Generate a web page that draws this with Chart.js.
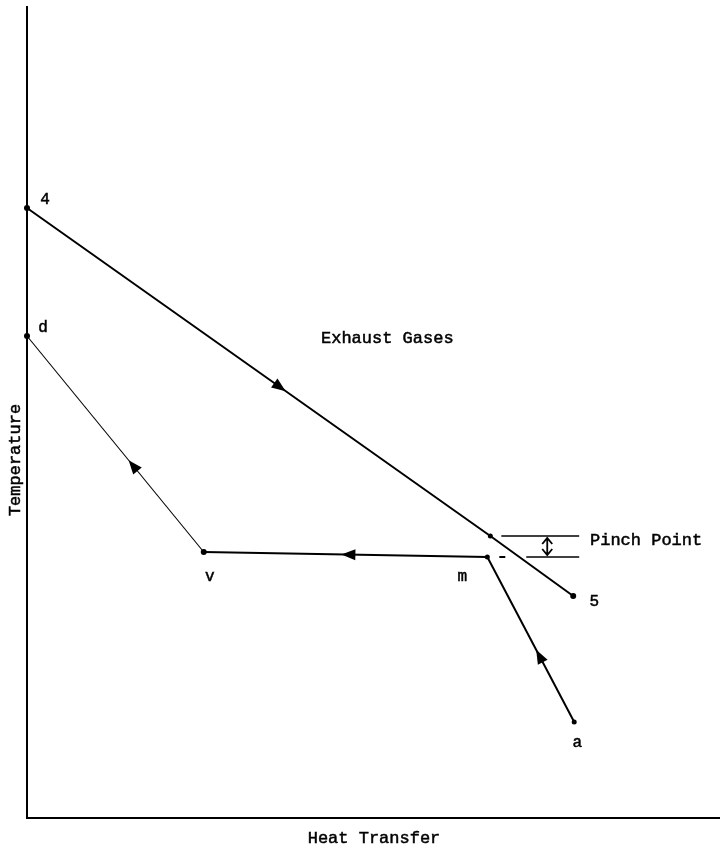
<!DOCTYPE html>
<html>
<head>
<meta charset="utf-8">
<script src="https://cdn.jsdelivr.net/npm/chart.js@4.4.1/dist/chart.umd.min.js"></script>
<style>
  html, body { margin: 0; padding: 0; background: #ffffff; }
  canvas { display: block; }
</style>
</head>
<body>
<canvas id="c" width="723" height="848"></canvas>
<script>
// ---- Data (arbitrary units: heat transfer →, temperature ↑) ----
const gasLabels   = ['4', 'pinch', '5'];
const gasQ        = [0, 464, 547];
const gasT        = [610, 282, 222];

const waterLabels = ['d', 'v', 'm', 'a'];
const waterQ      = [0, 177, 461, 548];
const waterT      = [482, 266, 261, 96];

// pinch point indicator (temperature difference between gas and water)
const pinchUpperQ = [475, 553];
const pinchLowerQ = [500, 553];
const pinchDashQ  = [473, 479];
const pinchArrowQ = 521;

// direction arrows: [series, fromIndex, toIndex, fraction along segment]
const flowArrows = [
  ['gas', 0, 1, 0.546],
  ['water', 1, 0, 0.40],
  ['water', 2, 1, 0.49],
  ['water', 3, 2, 0.40]
];

const axisTitleX = 'Heat Transfer';
const axisTitleY = 'Temperature';
const gasTitle   = 'Exhaust Gases';
const pinchTitle = 'Pinch Point';

const FONT = '"Liberation Mono", "Courier New", monospace';

function pts(xs, ys) { return xs.map((x, i) => ({ x: x, y: ys[i] })); }

const annotate = {
  id: 'annotate',
  afterDatasetsDraw(chart) {
    const ctx = chart.ctx;
    const xs = chart.scales.x, ys = chart.scales.y;
    const px = v => xs.getPixelForValue(v);
    const py = v => ys.getPixelForValue(v);
    const series = { gas: [gasQ, gasT], water: [waterQ, waterT] };

    ctx.save();
    ctx.fillStyle = '#000';
    ctx.strokeStyle = '#000';

    // flow arrows
    flowArrows.forEach(([s, i0, i1, f]) => {
      const [Q, T] = series[s];
      const x0 = px(Q[i0]), y0 = py(T[i0]), x1 = px(Q[i1]), y1 = py(T[i1]);
      const cx = x0 + (x1 - x0) * f, cy = y0 + (y1 - y0) * f;
      const ang = Math.atan2(y1 - y0, x1 - x0);
      const L = 14, W = 5.5;
      ctx.save();
      ctx.translate(cx, cy);
      ctx.rotate(ang);
      ctx.beginPath();
      ctx.moveTo(L / 2, 0);
      ctx.lineTo(-L / 2, -W);
      ctx.lineTo(-L / 2, W);
      ctx.closePath();
      ctx.fill();
      ctx.restore();
    });

    // pinch double arrow
    const ax = px(pinchArrowQ), ay0 = py(gasT[1]) + 2, ay1 = py(waterT[2]) - 2;
    ctx.lineWidth = 1.8;
    ctx.beginPath();
    ctx.moveTo(ax, ay0); ctx.lineTo(ax, ay1);
    ctx.moveTo(ax - 5, ay0 + 6); ctx.lineTo(ax, ay0); ctx.lineTo(ax + 5, ay0 + 6);
    ctx.moveTo(ax - 5, ay1 - 6); ctx.lineTo(ax, ay1); ctx.lineTo(ax + 5, ay1 - 6);
    ctx.stroke();

    // text helper (slightly heavier, typewriter-like)
    ctx.lineWidth = 0.5;
    const txt = (t, x, y) => { ctx.fillText(t, x, y); ctx.strokeText(t, x, y); };

    // point labels
    ctx.font = '16px ' + FONT;
    ctx.textAlign = 'center';
    ctx.textBaseline = 'middle';
    txt(gasLabels[0], px(gasQ[0]) + 18, py(gasT[0]) - 8);
    txt(gasLabels[2], px(gasQ[2]) + 21, py(gasT[2]) + 6);
    txt(waterLabels[0], px(waterQ[0]) + 16, py(waterT[0]) - 8);
    txt(waterLabels[1], px(waterQ[1]) + 6, py(waterT[1]) + 25);
    txt(waterLabels[2], px(waterQ[2]) - 25, py(waterT[2]) + 20);
    txt(waterLabels[3], px(waterQ[3]) + 3, py(waterT[3]) + 21);

    // titles
    ctx.font = '17px ' + FONT;
    ctx.textAlign = 'left';
    txt(gasTitle, 321, 338);
    txt(pinchTitle, 590, 540);

    const area = chart.chartArea;
    ctx.textAlign = 'center';
    txt(axisTitleX, 374, area.bottom + 20);
    ctx.save();
    ctx.translate(15, 460);
    ctx.rotate(-Math.PI / 2);
    txt(axisTitleY, 0, 0);
    ctx.restore();

    ctx.restore();
  }
};

const black = '#000000';
new Chart(document.getElementById('c'), {
  type: 'scatter',
  data: {
    datasets: [
      {
        data: pts(gasQ, gasT), showLine: true, borderColor: black, backgroundColor: black,
        borderWidth: 2, pointRadius: [3, 2.5, 3], pointBackgroundColor: black, pointBorderWidth: 0, clip: false
      },
      {
        data: pts(waterQ, waterT), showLine: true, borderColor: black, backgroundColor: black,
        borderWidth: 2, pointRadius: [3, 3, 2.5, 2.5], pointBorderWidth: 0, clip: false,
        segment: { borderWidth: c => (c.p0DataIndex === 0 ? 1.1 : 2) }
      },
      {
        data: pts(pinchUpperQ, [gasT[1], gasT[1]]), showLine: true, borderColor: black,
        borderWidth: 1.5, pointRadius: 0
      },
      {
        data: pts(pinchLowerQ, [waterT[2], waterT[2]]), showLine: true, borderColor: black,
        borderWidth: 1.5, pointRadius: 0
      },
      {
        data: pts(pinchDashQ, [waterT[2], waterT[2]]), showLine: true, borderColor: black,
        borderWidth: 2, pointRadius: 0
      }
    ]
  },
  options: {
    responsive: false,
    animation: false,
    devicePixelRatio: 1,
    layout: { padding: { left: 27, top: 7, right: 0, bottom: 30 } },
    plugins: { legend: { display: false }, tooltip: { enabled: false } },
    scales: {
      x: {
        type: 'linear', min: 0, max: 693,
        grid: { display: false, drawTicks: false },
        ticks: { display: false },
        border: { display: true, color: black, width: 2 },
        afterFit: s => { s.height = 0; }
      },
      y: {
        type: 'linear', min: 0, max: 811,
        grid: { display: false, drawTicks: false },
        ticks: { display: false },
        border: { display: true, color: black, width: 2 },
        afterFit: s => { s.width = 0; }
      }
    }
  },
  plugins: [annotate]
});
</script>
</body>
</html>
